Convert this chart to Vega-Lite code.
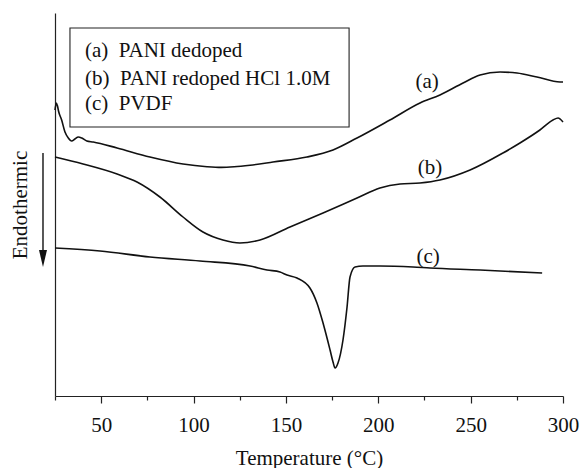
{
  "$schema": "https://vega.github.io/schema/vega-lite/v6.json",
  "width": 508,
  "height": 383,
  "autosize": "none",
  "padding": {"left": 55, "top": 13, "right": 18, "bottom": 72},
  "background": "white",
  "config": {"view": {"stroke": null}, "font": "Liberation Serif"},
  "datasets": {
    "curves": [
      {"s": "a", "T": 25, "v": 286}, {"s": "a", "T": 25.7, "v": 293}, {"s": "a", "T": 26.35, "v": 290}, {"s": "a", "T": 26.9, "v": 285},
      {"s": "a", "T": 28.6, "v": 276}, {"s": "a", "T": 30.4, "v": 264}, {"s": "a", "T": 32.2, "v": 258}, {"s": "a", "T": 34.0, "v": 255},
      {"s": "a", "T": 35.8, "v": 257}, {"s": "a", "T": 37.6, "v": 259}, {"s": "a", "T": 39.5, "v": 258}, {"s": "a", "T": 42.2, "v": 255},
      {"s": "a", "T": 45.7, "v": 254}, {"s": "a", "T": 58.6, "v": 248}, {"s": "a", "T": 76.4, "v": 239}, {"s": "a", "T": 94.3, "v": 232},
      {"s": "a", "T": 107.3, "v": 229.3}, {"s": "a", "T": 115, "v": 228.6}, {"s": "a", "T": 122, "v": 229.2}, {"s": "a", "T": 130.6, "v": 230.8}, {"s": "a", "T": 143.0, "v": 234},
      {"s": "a", "T": 161.4, "v": 239}, {"s": "a", "T": 175.5, "v": 246}, {"s": "a", "T": 188.5, "v": 258}, {"s": "a", "T": 206.3, "v": 276},
      {"s": "a", "T": 222.6, "v": 293}, {"s": "a", "T": 233.4, "v": 301}, {"s": "a", "T": 245.9, "v": 313}, {"s": "a", "T": 255.1, "v": 321},
      {"s": "a", "T": 265.9, "v": 324}, {"s": "a", "T": 275.1, "v": 323}, {"s": "a", "T": 285.9, "v": 319}, {"s": "a", "T": 298.4, "v": 314},
      {"s": "a", "T": 300, "v": 314},
      {"s": "b", "T": 25, "v": 239}, {"s": "b", "T": 40.2, "v": 232}, {"s": "b", "T": 58.6, "v": 222}, {"s": "b", "T": 69.4, "v": 214},
      {"s": "b", "T": 81.8, "v": 199}, {"s": "b", "T": 94.3, "v": 179}, {"s": "b", "T": 105.1, "v": 164}, {"s": "b", "T": 115.9, "v": 156},
      {"s": "b", "T": 125.1, "v": 153}, {"s": "b", "T": 136.0, "v": 156}, {"s": "b", "T": 152.2, "v": 169}, {"s": "b", "T": 170.1, "v": 183},
      {"s": "b", "T": 188.5, "v": 198}, {"s": "b", "T": 200.9, "v": 208}, {"s": "b", "T": 211.8, "v": 212}, {"s": "b", "T": 222.6, "v": 213},
      {"s": "b", "T": 233.4, "v": 216}, {"s": "b", "T": 249.7, "v": 226}, {"s": "b", "T": 267.5, "v": 243}, {"s": "b", "T": 276.7, "v": 253},
      {"s": "b", "T": 287.5, "v": 266}, {"s": "b", "T": 294.6, "v": 276}, {"s": "b", "T": 297.3, "v": 278}, {"s": "b", "T": 300, "v": 274},
      {"s": "c", "T": 25, "v": 148}, {"s": "c", "T": 49.4, "v": 145}, {"s": "c", "T": 76.4, "v": 139}, {"s": "c", "T": 103.5, "v": 135},
      {"s": "c", "T": 130.6, "v": 130}, {"s": "c", "T": 139.8, "v": 126}, {"s": "c", "T": 146.8, "v": 124}, {"s": "c", "T": 150.6, "v": 121},
      {"s": "c", "T": 156.0, "v": 118}, {"s": "c", "T": 163.0, "v": 108}, {"s": "c", "T": 166.8, "v": 93}, {"s": "c", "T": 170.1, "v": 73},
      {"s": "c", "T": 173.9, "v": 46}, {"s": "c", "T": 175.5, "v": 34}, {"s": "c", "T": 176.6, "v": 28}, {"s": "c", "T": 178.2, "v": 33},
      {"s": "c", "T": 180.9, "v": 56}, {"s": "c", "T": 183.1, "v": 89}, {"s": "c", "T": 184.7, "v": 119}, {"s": "c", "T": 187.4, "v": 129},
      {"s": "c", "T": 191.7, "v": 130}, {"s": "c", "T": 200.9, "v": 130}, {"s": "c", "T": 218.8, "v": 129}, {"s": "c", "T": 228.0, "v": 128},
      {"s": "c", "T": 255.1, "v": 126}, {"s": "c", "T": 288.7, "v": 123}
    ],
    "box": [{"x1": 33.1, "x2": 184.2, "y1": 368, "y2": 269}],
    "legendText": [
      {"T": 41.2, "v": 345, "t": "(a)\u00a0 PANI dedoped"},
      {"T": 41.2, "v": 317, "t": "(b)\u00a0 PANI redoped HCl 1.0M"},
      {"T": 41.2, "v": 292, "t": "(c)\u00a0 PVDF"}
    ],
    "curveLabels": [
      {"T": 226.4, "v": 314, "t": "(a)"},
      {"T": 228, "v": 228, "t": "(b)"},
      {"T": 227, "v": 139, "t": "(c)"}
    ],
    "arrow": [{"T": 18.5, "v1": 243, "v2": 137, "vh": 137.5}]
  },
  "layer": [
    {
      "data": {"name": "curves"},
      "mark": {"type": "line", "interpolate": "monotone", "color": "#111", "strokeWidth": 1.6},
      "encoding": {
        "x": {
          "field": "T", "type": "quantitative", "title": "Temperature (°C)",
          "scale": {"domain": [25, 300], "nice": false, "zero": false},
          "axis": {
            "values": [25, 50, 75, 100, 125, 150, 175, 200, 225, 250, 275, 300],
            "labelExpr": "datum.value % 50 === 0 ? datum.label : ''",
            "tickSize": {"condition": {"test": "datum.value % 50 === 0", "value": 7}, "value": 4},
            "grid": false, "domainColor": "#222", "tickColor": "#222", "domainWidth": 1.2, "tickWidth": 1.2,
            "labelFont": "Liberation Serif", "labelFontSize": 21, "labelColor": "#111", "labelPadding": 11, "labelFlush": false,
            "titleFont": "Liberation Serif", "titleFontSize": 21, "titleFontWeight": "normal", "titleColor": "#111", "titlePadding": 12
          }
        },
        "y": {
          "field": "v", "type": "quantitative", "title": "Endothermic",
          "scale": {"domain": [0, 383], "nice": false, "zero": false},
          "axis": {
            "ticks": false, "labels": false, "grid": false, "domainColor": "#222", "domainWidth": 1.2,
            "titleFont": "Liberation Serif", "titleFontSize": 21, "titleFontWeight": "normal", "titleColor": "#111", "titlePadding": 25
          }
        },
        "detail": {"field": "s"}
      }
    },
    {
      "data": {"name": "box"},
      "mark": {"type": "rect", "filled": false, "stroke": "#222", "strokeWidth": 1.1},
      "encoding": {
        "x": {"field": "x1", "type": "quantitative", "title": "Temperature (°C)"},
        "x2": {"field": "x2"},
        "y": {"field": "y1", "type": "quantitative", "title": "Endothermic"},
        "y2": {"field": "y2"}
      }
    },
    {
      "data": {"name": "legendText"},
      "mark": {"type": "text", "align": "left", "baseline": "middle", "font": "Liberation Serif", "fontSize": 21, "color": "#111"},
      "encoding": {
        "x": {"field": "T", "type": "quantitative", "title": "Temperature (°C)"},
        "y": {"field": "v", "type": "quantitative", "title": "Endothermic"},
        "text": {"field": "t"}
      }
    },
    {
      "data": {"name": "curveLabels"},
      "mark": {"type": "text", "align": "center", "baseline": "middle", "font": "Liberation Serif", "fontSize": 21, "color": "#111"},
      "encoding": {
        "x": {"field": "T", "type": "quantitative", "title": "Temperature (°C)"},
        "y": {"field": "v", "type": "quantitative", "title": "Endothermic"},
        "text": {"field": "t"}
      }
    },
    {
      "data": {"name": "arrow"},
      "mark": {"type": "rule", "color": "#111", "strokeWidth": 1.4},
      "encoding": {
        "x": {"field": "T", "type": "quantitative", "title": "Temperature (°C)"},
        "y": {"field": "v1", "type": "quantitative", "title": "Endothermic"},
        "y2": {"field": "v2"}
      }
    },
    {
      "data": {"name": "arrow"},
      "mark": {"type": "point", "shape": "M-0.47,-1L0.47,-1L0,1Z", "size": 289, "filled": true, "color": "#111", "opacity": 1, "strokeWidth": 0},
      "encoding": {
        "x": {"field": "T", "type": "quantitative", "title": "Temperature (°C)"},
        "y": {"field": "vh", "type": "quantitative", "title": "Endothermic"}
      }
    }
  ]
}
